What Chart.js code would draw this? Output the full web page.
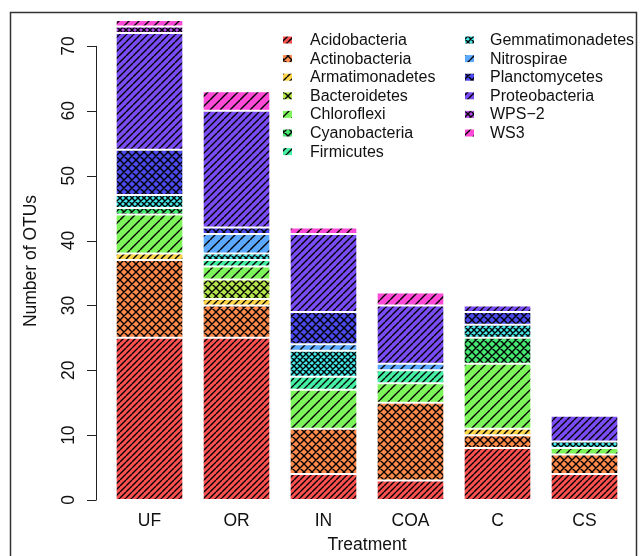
<!DOCTYPE html>
<html>
<head>
<meta charset="utf-8">
<script src="https://cdn.jsdelivr.net/npm/chart.js@4"></script>
<style>
  html, body { margin: 0; padding: 0; background: #fff; }
  #wrap { width: 642px; height: 556px; }
</style>
</head>
<body>
<div id="wrap"><canvas id="otuChart" width="642" height="556"></canvas></div>
<script>
// treatments on the x axis
const treatments = ['UF', 'OR', 'IN', 'COA', 'C', 'CS'];

// OTU counts per phylum, one value per treatment
const acidobacteria    = [25, 25, 4, 3, 8, 4];
const actinobacteria   = [12, 5, 7, 12, 2, 3];
const armatimonadetes  = [1, 1, 0, 0, 1, 0];
const bacteroidetes    = [0, 3, 0, 0, 0, 0];
const chloroflexi      = [6, 2, 6, 3, 10, 1];
const cyanobacteria    = [1, 0, 0, 0, 4, 0];
const firmicutes       = [0, 1, 2, 2, 0, 0];
const gemmatimonadetes = [2, 1, 4, 0, 2, 1];
const nitrospirae      = [0, 3, 1, 1, 0, 0];
const planctomycetes   = [7, 1, 5, 0, 2, 0];
const proteobacteria   = [18, 18, 12, 9, 1, 4];
const wps2             = [1, 0, 0, 0, 0, 0];
const ws3              = [1, 3, 1, 2, 0, 0];

const yTicks = [0, 10, 20, 30, 40, 50, 60, 70];

const FONT = '"Liberation Sans", Arial, Helvetica, sans-serif';
const canvas = document.getElementById('otuChart');
const mainCtx = canvas.getContext('2d');

// hatch fill like R's density/angle shading
function hatch(color, step, cross) {
    const c = document.createElement('canvas');
    c.width = step;
    c.height = step;
    const g = c.getContext('2d');
    g.fillStyle = color;
    g.fillRect(0, 0, step, step);
    g.strokeStyle = '#000';
    g.lineWidth = 1.4;
    g.beginPath();
    for (let k = -1; k <= 1; k++) {
        g.moveTo(k * step, step);
        g.lineTo(k * step + step, 0);
        if (cross) {
            g.moveTo(k * step, 0);
            g.lineTo(k * step + step, step);
        }
    }
    g.stroke();
    return mainCtx.createPattern(c, 'repeat');
}

const series = [
    ['Acidobacteria', acidobacteria, '#ff5050', 6, false],
    ['Actinobacteria', actinobacteria, '#ff8a4a', 8, true],
    ['Armatimonadetes', armatimonadetes, '#ffd54a', 7, false],
    ['Bacteroidetes', bacteroidetes, '#b5e84a', 8, true],
    ['Chloroflexi', chloroflexi, '#7df55a', 10, false],
    ['Cyanobacteria', cyanobacteria, '#45e870', 8, true],
    ['Firmicutes', firmicutes, '#45f0a5', 7, false],
    ['Gemmatimonadetes', gemmatimonadetes, '#45e8e8', 6, true],
    ['Nitrospirae', nitrospirae, '#5aa8ff', 10, false],
    ['Planctomycetes', planctomycetes, '#4a4af0', 8, true],
    ['Proteobacteria', proteobacteria, '#7a4cf5', 7, false],
    ['WPS\u22122', wps2, '#b44aea', 6, true],
    ['WS3', ws3, '#ff4ad8', 10, false]
];

const datasets = series.map(s => ({
    label: s[0],
    data: s[1],
    backgroundColor: hatch(s[2], s[3], s[4]),
    borderColor: '#ffffff',
    borderWidth: { top: 1, bottom: 1, left: 0, right: 0 },
    borderSkipped: false
}));

// outer frame of the figure
const framePlugin = {
    id: 'frame',
    beforeDraw(chart) {
        const ctx = chart.ctx;
        ctx.save();
        ctx.strokeStyle = '#333';
        ctx.lineWidth = 1.5;
        ctx.strokeRect(10.5, 12.5, 626, 600);
        ctx.restore();
    }
};

// R style y axis: line from 0 to 70, outward ticks, rotated labels
const rAxisPlugin = {
    id: 'rAxis',
    afterDraw(chart) {
        const ctx = chart.ctx;
        const y = chart.scales.y;
        const x0 = 96.5;
        ctx.save();
        ctx.strokeStyle = '#222';
        ctx.lineWidth = 1;
        ctx.beginPath();
        ctx.moveTo(x0, y.getPixelForValue(yTicks[0]));
        ctx.lineTo(x0, y.getPixelForValue(yTicks[yTicks.length - 1]));
        yTicks.forEach(t => {
            const py = Math.round(y.getPixelForValue(t)) + 0.5;
            ctx.moveTo(x0, py);
            ctx.lineTo(87, py);
        });
        ctx.stroke();

        ctx.fillStyle = '#111';
        ctx.font = '17.5px ' + FONT;
        ctx.textAlign = 'center';
        ctx.textBaseline = 'middle';
        yTicks.forEach(t => {
            ctx.save();
            ctx.translate(69, y.getPixelForValue(t));
            ctx.rotate(-Math.PI / 2);
            ctx.fillText(String(t), 0, 0);
            ctx.restore();
        });
        ctx.save();
        ctx.translate(31, 261);
        ctx.rotate(-Math.PI / 2);
        ctx.fillText('Number of OTUs', 0, 0);
        ctx.restore();
        ctx.restore();
    }
};

// two-column legend in the top right
const legendPlugin = {
    id: 'rLegend',
    afterDraw(chart) {
        const ctx = chart.ctx;
        ctx.save();
        ctx.font = '16px ' + FONT;
        ctx.textAlign = 'left';
        ctx.textBaseline = 'middle';
        chart.data.datasets.forEach((ds, i) => {
            const col = i < 7 ? 0 : 1;
            const row = col === 0 ? i : i - 7;
            const yc = 40 + row * 18.6;
            const bx = col === 0 ? 283 : 465;
            const tx = col === 0 ? 310 : 490;
            ctx.fillStyle = ds.backgroundColor;
            ctx.fillRect(bx, yc - 3.5, 9, 7);
            ctx.fillStyle = '#111';
            ctx.fillText(ds.label, tx, yc + 0.5);
        });
        ctx.restore();
    }
};

new Chart(canvas, {
    type: 'bar',
    data: {
        labels: treatments,
        datasets: datasets
    },
    options: {
        responsive: false,
        animation: false,
        layout: {
            padding: { left: 106, right: 14, top: 7, bottom: 0 }
        },
        datasets: {
            bar: {
                categoryPercentage: 1,
                barPercentage: 0.76
            }
        },
        plugins: {
            legend: { display: false },
            tooltip: { enabled: false }
        },
        scales: {
            x: {
                stacked: true,
                grid: { display: false, drawTicks: false },
                border: { display: false },
                ticks: {
                    color: '#111',
                    padding: 11,
                    font: { family: FONT, size: 17.5 }
                },
                title: {
                    display: true,
                    text: 'Treatment',
                    color: '#111',
                    padding: { top: 0, bottom: 0.5 },
                    font: { family: FONT, size: 17.5 }
                },
                afterFit(scale) {
                    scale.height = 56;
                }
            },
            y: {
                stacked: true,
                display: false,
                min: 0,
                max: 76
            }
        }
    },
    plugins: [framePlugin, rAxisPlugin, legendPlugin]
});
</script>
</body>
</html>
